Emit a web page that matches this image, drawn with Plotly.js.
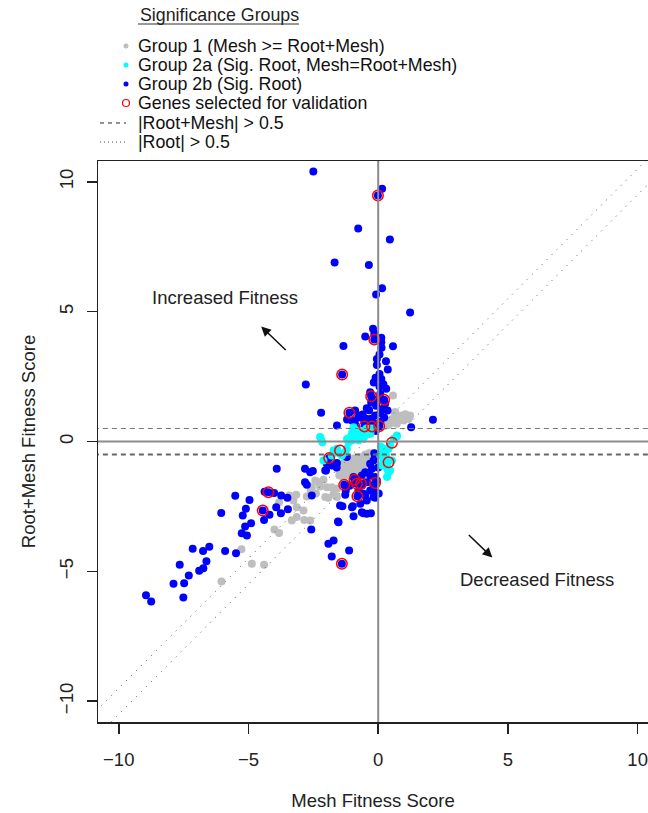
<!DOCTYPE html>
<html>
<head>
<meta charset="utf-8">
<script src="https://cdn.plot.ly/plotly-3.0.1.min.js"></script>
<style>body{margin:0;padding:0;background:#fff;}#chart{width:648px;height:813px;}</style>
</head>
<body>
<div id="chart"></div>
<script>
// ---- Data (Mesh fitness score x, Root+Mesh fitness score y) ----
const group1X = [-6.04,-4.87,-4.40,-5.27,-4.00,-3.82,-3.33,-3.14,-2.85,-2.62,-3.82,-3.42,-3.16,-3.27,-3.14,-2.88,-2.75,-2.43,-2.30,-2.11,-2.56,-2.24,-1.98,-1.79,-1.59,-1.72,-1.59,-2.04,-1.92,-2.60,-2.40,
 -0.35,-0.50,-0.45,-0.65,-0.60,-0.80,-0.75,-0.95,-0.90,-1.10,-1.05,-1.25,-1.20,-1.40,-1.35,-1.50,-0.55,-0.70,-0.85,-1.00,-0.40,-0.30,-1.55,-1.30,-0.20,
 -0.62,-0.95,-1.15,-1.30,-0.80,-0.50,-1.45,-1.00,-0.70,
 0.57,0.63,0.91,1.11,1.23,0.98,0.85,1.17,0.46,0.53,0.40,0.34,0.72,0.66,1.05,0.75,0.20];
const group1Y = [-5.39,-4.71,-4.75,-4.15,-3.39,-3.52,-3.04,-2.91,-3.02,-3.04,-2.34,-2.08,-2.05,-2.27,-2.53,-2.66,-2.12,-1.50,-1.57,-1.47,-1.76,-1.73,-1.76,-1.76,-1.82,-2.01,-2.14,-2.14,-2.17,-1.90,-2.00,
 -0.45,-0.50,-0.65,-0.60,-0.80,-0.70,-0.95,-0.85,-1.10,-0.95,-1.20,-1.05,-1.30,-1.15,-1.40,-1.30,-1.00,-1.20,-1.35,-1.45,-0.80,-0.60,-1.05,-0.80,-0.45,
 -0.72,-0.65,-0.75,-0.95,-1.10,-0.85,-0.90,-1.25,-1.00,
 1.77,1.13,1.00,0.94,1.00,0.81,0.84,0.87,0.68,0.87,0.81,0.62,0.68,1.13,1.05,0.95,0.60];

const group2aX = [-2.21,-2.15,-2.24,-0.95,-0.82,
 -1.14,-1.00,-0.90,-0.80,-0.70,-0.60,-0.50,-0.37,-1.05,-0.85,-0.65,-0.45,-0.75,-0.55,-1.20,-0.30,-0.25,-1.00,
 -1.72,-1.59,-1.21,-1.79,-1.66,-1.40,-1.27,-2.11,-1.50,
 0.72,0.59,0.46,0.27,0.14,0.08,0.27,0.53,0.34,0.40,0.34,0.72,0.40,0.20,0.14,0.46,0.30,0.20,0.35,0.10];
const group2aY = [0.10,-0.03,0.17,0.55,0.42,
 -0.03,0.05,0.12,0.20,0.25,0.30,0.35,0.42,0.20,0.30,0.40,0.50,0.05,0.15,0.10,0.30,0.50,0.35,
 -0.35,-0.28,-0.28,-0.54,-0.41,-0.54,-0.41,-0.73,-0.45,
 0.23,0.10,-0.15,-0.28,-0.41,-0.54,-0.67,-0.73,-0.92,-1.18,-1.37,0.19,-0.28,-0.35,-0.92,-1.12,-0.50,-0.75,-1.05,-0.20];

const group2bX = [-2.50,0.15,-0.01,-0.77,0.45,-1.68,-0.36,0.15,-0.08,1.23,
 -0.20,-0.15,-0.50,-0.15,0.12,0.12,-1.34,0.57,0.13,0.05,-0.05,0.30,-0.05,0.37,-1.39,-2.79,-0.17,0.12,0.05,0.31,-0.31,-0.27,0.08,0.23,0.01,-0.18,-0.44,0.36,-1.11,-2.20,-0.89,-0.69,-1.59,-0.53,-0.24,0.04,1.27,2.11,
 -0.27,-0.12,0.08,-0.46,0.23,-0.35,-0.08,0.19,-0.27,0.00,0.27,-0.54,-0.77,-1.00,-0.60,-0.20,0.08,-0.40,-0.90,-1.20,-0.85,-0.10,0.05,0.20,-0.10,
 -3.91,-2.82,-2.52,-2.75,-2.01,-1.89,-1.59,-1.21,-5.51,-4.96,-6.05,-5.10,-5.22,-4.90,-5.13,-5.26,-5.06,-4.40,-4.19,-3.93,-3.75,-3.48,-3.74,-3.50,-4.01,-4.38,-4.23,-4.45,-2.58,-2.56,-1.53,-0.95,-1.38,-0.98,-0.57,-0.44,-0.28,-0.12,-0.44,-0.69,-1.27,-1.92,-1.72,-1.79,-1.12,-1.40,-1.55,
 -8.95,-8.75,-7.51,-7.89,-7.48,-7.30,-7.65,-6.90,-6.74,-6.62,-7.15,-6.75,-6.51,-5.90,-5.48,
 -2.62,-2.04,-1.98,-1.79,-2.82,-1.47,-1.01,-0.63,-0.50,
 -0.31,-0.18,-0.12,-0.24,-0.50,-0.63,-0.31,-0.12,-0.44,-0.18,-0.31,-0.63,-0.82,-0.95,-0.76,-0.57,-0.12,-0.18,0.00,-0.05,0.02,-0.90,-1.10,-1.25,-0.15,-1.60,
 -1.31,-0.91,-0.82,-0.66,-0.12,-0.80];
const group2bY = [10.40,9.73,9.47,8.20,7.78,6.89,6.80,5.90,5.66,4.97,
 4.34,4.16,4.04,3.93,3.99,3.82,3.68,3.67,3.61,3.35,3.18,3.09,2.95,2.77,2.58,2.19,2.27,2.41,2.12,2.03,1.90,1.74,1.84,1.61,1.58,1.51,1.28,1.19,1.11,1.11,1.19,1.00,0.62,0.58,0.58,0.58,0.55,0.84,
 0.88,1.00,1.10,0.88,0.92,1.20,1.38,1.27,1.50,1.65,1.46,0.80,0.92,0.80,1.04,0.73,0.77,0.65,0.70,0.85,0.50,0.40,2.60,2.20,2.45,
 -1.05,-1.05,-1.14,-1.67,-1.12,-0.64,-0.83,-0.60,-2.09,-2.25,-2.75,-2.59,-2.85,-3.15,-3.27,-3.53,-3.62,-3.02,-2.82,-2.53,-2.76,-2.61,-2.08,-2.17,-1.98,-1.93,-1.95,-2.66,-3.39,-2.08,-3.11,-2.88,-2.49,-2.49,-2.76,-2.78,-2.76,-2.17,-2.27,-2.40,-2.05,-3.94,-3.81,-4.43,-4.20,-4.71,-3.08,
 -5.92,-6.16,-6.01,-5.48,-5.46,-5.16,-4.75,-4.98,-4.88,-4.61,-4.13,-4.22,-4.05,-4.22,-4.30,
 -1.18,-1.12,-0.86,-0.92,-1.57,-2.46,-2.53,-2.72,-2.08,
 -0.86,-0.73,-0.60,-1.05,-1.18,-1.31,-1.31,-1.37,-1.57,-1.69,-1.89,-1.69,-1.44,-1.37,-1.89,-2.01,-1.95,-2.14,-1.00,-1.50,-2.00,-1.60,-1.70,-1.90,-0.45,-1.00,
 -1.67,-1.47,-1.63,-1.63,-1.60,-2.11];

const validX = [-0.01,-0.15,-1.39,-0.27,0.23,-1.11,-0.53,-0.24,0.04,0.53,-1.47,-1.89,0.40,-1.31,-0.91,-0.82,-0.66,-0.12,-0.80,-4.23,-4.45,-1.40];
const validY = [9.47,3.93,2.58,1.74,1.61,1.11,0.58,0.58,0.59,-0.05,-0.35,-0.64,-0.80,-1.67,-1.47,-1.63,-1.63,-1.60,-2.11,-1.95,-2.66,-4.71];

const xTicks = [-10, -5, 0, 5, 10];
const yTicks = [-10, -5, 0, 5, 10];
const legendTitle = 'Significance Groups';
const legendLabels = ['Group 1 (Mesh >= Root+Mesh)', 'Group 2a (Sig. Root, Mesh=Root+Mesh)', 'Group 2b (Sig. Root)', 'Genes selected for validation', '|Root+Mesh| > 0.5', '|Root| > 0.5'];
const threshold = 0.5;

// ---- Layout constants ----
const W = 648, H = 813;
const L = 98, R = 0, T = 161, B = 91;
const PW = W - L - R, PH = H - T - B;
const FONT = 'Liberation Sans, Arial, Helvetica, sans-serif';
const FS = 18.5;
const LFS = 17.8;
function px2paperX(p) { return (p - L) / PW; }
function px2paperY(p) { return (H - B - p) / PH; }

const traces = [
  {type:'scatter', mode:'markers', x:group1X, y:group1Y, marker:{color:'#bebebe', size:8}, hoverinfo:'x+y', showlegend:false},
  {type:'scatter', mode:'markers', x:group2bX, y:group2bY, marker:{color:'#0000ff', size:8}, hoverinfo:'x+y', showlegend:false},
  {type:'scatter', mode:'markers', x:group2aX, y:group2aY, marker:{color:'#00ffff', size:8}, hoverinfo:'x+y', showlegend:false},
  {type:'scatter', mode:'markers', x:validX, y:validY, marker:{color:'rgba(0,0,0,0)', size:10.5, line:{color:'#ff0000', width:1.5}}, hoverinfo:'x+y', showlegend:false}
];

const shapes = [
  {type:'line', xref:'x', yref:'y', x0:0, x1:0, y0:-12, y1:12, line:{color:'#8c8c8c', width:2}, layer:'above'},
  {type:'line', xref:'x', yref:'y', x0:-12, x1:12, y0:0, y1:0, line:{color:'#8c8c8c', width:2}, layer:'above'},
  {type:'line', xref:'x', yref:'y', x0:-12, x1:12, y0:threshold, y1:threshold, line:{color:'#777', width:1, dash:'5px,4px'}, layer:'above'},
  {type:'line', xref:'x', yref:'y', x0:-12, x1:12, y0:-threshold, y1:-threshold, line:{color:'#666', width:2, dash:'5px,4px'}, layer:'above'},
  {type:'line', xref:'x', yref:'y', x0:-12, x1:12, y0:-12+threshold, y1:12+threshold, line:{color:'#555', width:1, dash:'1px,6px'}, layer:'above'},
  {type:'line', xref:'x', yref:'y', x0:-12, x1:12, y0:-12-threshold, y1:12-threshold, line:{color:'#555', width:1, dash:'1px,6px'}, layer:'above'}
];

// legend drawn outside the plot area
const legRows = [46, 65, 84, 103, 123, 142];
const symX = 126;
shapes.push({type:'line', xref:'paper', yref:'paper', x0:px2paperX(138), x1:px2paperX(299), y0:px2paperY(24), y1:px2paperY(24), line:{color:'#333', width:1}});
shapes.push({type:'circle', xref:'paper', yref:'paper', xsizemode:'pixel', ysizemode:'pixel', xanchor:px2paperX(symX), yanchor:px2paperY(legRows[0]), x0:-2.5, x1:2.5, y0:-2.5, y1:2.5, fillcolor:'#bebebe', line:{width:0}});
shapes.push({type:'circle', xref:'paper', yref:'paper', xsizemode:'pixel', ysizemode:'pixel', xanchor:px2paperX(symX), yanchor:px2paperY(legRows[1]), x0:-2.5, x1:2.5, y0:-2.5, y1:2.5, fillcolor:'#00ffff', line:{width:0}});
shapes.push({type:'circle', xref:'paper', yref:'paper', xsizemode:'pixel', ysizemode:'pixel', xanchor:px2paperX(symX), yanchor:px2paperY(legRows[2]), x0:-2.5, x1:2.5, y0:-2.5, y1:2.5, fillcolor:'#0000ff', line:{width:0}});
shapes.push({type:'circle', xref:'paper', yref:'paper', xsizemode:'pixel', ysizemode:'pixel', xanchor:px2paperX(symX), yanchor:px2paperY(legRows[3]), x0:-3.5, x1:3.5, y0:-3.5, y1:3.5, fillcolor:'rgba(0,0,0,0)', line:{color:'#ff0000', width:1.2}});
shapes.push({type:'line', xref:'paper', yref:'paper', x0:px2paperX(100), x1:px2paperX(126), y0:px2paperY(legRows[4]), y1:px2paperY(legRows[4]), line:{color:'#222', width:1, dash:'4px,4px'}});
shapes.push({type:'line', xref:'paper', yref:'paper', x0:px2paperX(100), x1:px2paperX(126), y0:px2paperY(legRows[5]), y1:px2paperY(legRows[5]), line:{color:'#555', width:1, dash:'1px,3px'}});

const annotations = [
  {xref:'paper', yref:'paper', x:px2paperX(138), y:px2paperY(15), xanchor:'left', yanchor:'middle', text:legendTitle, showarrow:false, font:{family:FONT, size:LFS, color:'#222'}}
];
legendLabels.forEach((t, i) => {
  annotations.push({xref:'paper', yref:'paper', x:px2paperX(136), y:px2paperY(legRows[i]), xanchor:'left', yanchor:'middle', text:t, showarrow:false, font:{family:FONT, size:LFS, color:'#111'}});
});
annotations.push({xref:'x', yref:'y', x:-5.90, y:5.54, text:'Increased Fitness', showarrow:false, font:{family:FONT, size:FS, color:'#222'}});
annotations.push({xref:'x', yref:'y', x:6.13, y:-5.31, text:'Decreased Fitness', showarrow:false, font:{family:FONT, size:FS, color:'#222'}});
annotations.push({xref:'x', yref:'y', x:-4.51, y:4.43, ax:26, ay:25, text:'', showarrow:true, arrowhead:2, arrowsize:1.3, arrowwidth:1.5, arrowcolor:'#111'});
annotations.push({xref:'x', yref:'y', x:4.40, y:-4.47, ax:-25, ay:-24, text:'', showarrow:true, arrowhead:2, arrowsize:1.3, arrowwidth:1.5, arrowcolor:'#111'});

const layout = {
  width: W, height: H,
  margin: {l:L, r:R, t:T, b:B, pad:0},
  paper_bgcolor:'#fff', plot_bgcolor:'#fff',
  showlegend:false,
  font:{family:FONT, size:FS, color:'#222'},
  xaxis:{range:[-10.8, 10.4], tickvals:xTicks, ticktext:xTicks.map(v => v < 0 ? '\u2212' + Math.abs(v) : String(v)),
    showgrid:false, zeroline:false, showline:true, mirror:true, linecolor:'#222', linewidth:1.5,
    ticks:'outside', ticklen:10, tickwidth:1.5, tickcolor:'#222', ticklabelstandoff:10, tickfont:{family:FONT, size:FS, color:'#222'},
    title:{text:'Mesh Fitness Score', font:{family:FONT, size:FS, color:'#222'}, standoff:25}},
  yaxis:{range:[-10.8, 10.8], tickvals:yTicks, ticktext:yTicks.map(v => v < 0 ? '\u2212' + Math.abs(v) : String(v)),
    showgrid:false, zeroline:false, showline:true, mirror:false, linecolor:'#222', linewidth:1.5,
    ticks:'outside', ticklen:10, tickwidth:1.5, tickcolor:'#222', tickangle:-90, ticklabelstandoff:6, tickfont:{family:FONT, size:FS, color:'#222'},
    title:{text:'Root+Mesh Fitness Score', font:{family:FONT, size:FS, color:'#222'}, standoff:15}},
  shapes: shapes,
  annotations: annotations
};

Plotly.newPlot('chart', traces, layout, {displayModeBar:false, staticPlot:true});
</script>
</body>
</html>
